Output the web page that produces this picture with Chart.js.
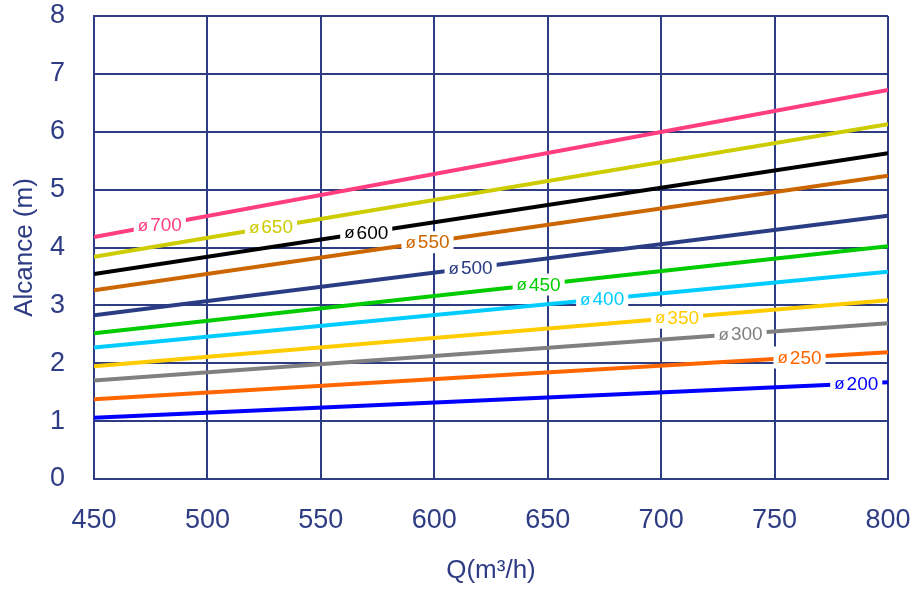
<!DOCTYPE html>
<html>
<head>
<meta charset="utf-8">
<script src="https://cdn.jsdelivr.net/npm/chart.js@4/dist/chart.umd.min.js"></script>
<style>
  html, body { margin: 0; padding: 0; background: #fff; }
  #wrap { width: 915px; height: 591px; }
</style>
</head>
<body>
<div id="wrap"><canvas id="c" width="915" height="591"></canvas></div>
<script>
// ---- data ----
const qValues = [450, 800];
const seriesNames = ['700', '650', '600', '550', '500', '450', '400', '350', '300', '250', '200'];
const reachAtStart = [4.18, 3.84, 3.54, 3.26, 2.83, 2.52, 2.27, 1.95, 1.70, 1.38, 1.06];
const reachAtEnd   = [6.72, 6.13, 5.63, 5.24, 4.55, 4.02, 3.58, 3.09, 2.69, 2.19, 1.67];
const labelQ       = [479, 528, 570, 597, 616, 646, 674, 707, 735, 761, 786];
const seriesColors = ['#FF3D7F', '#CCCC00', '#000000', '#CC6600', '#2A3C84', '#00CC00',
                      '#00CCFF', '#FFCC00', '#808080', '#FF6600', '#0000FF'];
const xTicks = [450, 500, 550, 600, 650, 700, 750, 800];
const yTicks = [0, 1, 2, 3, 4, 5, 6, 7, 8];

const NAVY = '#2E3C84';
const FONT = 'Arial, "Liberation Sans", sans-serif';

const datasets = seriesNames.map((n, i) => ({
  label: 'ø' + n,
  data: [{x: qValues[0], y: reachAtStart[i]}, {x: qValues[1], y: reachAtEnd[i]}],
  borderColor: seriesColors[i],
  backgroundColor: seriesColors[i],
  borderWidth: 4,
  pointRadius: 0,
  fill: false,
  tension: 0
}));

const labelPlugin = {
  id: 'lineLabels',
  afterDatasetsDraw(chart) {
    const ctx = chart.ctx;
    const xs = chart.scales.x, ys = chart.scales.y;
    ctx.save();
    seriesNames.forEach((n, i) => {
      const q = labelQ[i];
      const t = (q - qValues[0]) / (qValues[1] - qValues[0]);
      const v = reachAtStart[i] + (reachAtEnd[i] - reachAtStart[i]) * t;
      const px = xs.getPixelForValue(q);
      const py = ys.getPixelForValue(v);
      const symFont = '17px ' + FONT;
      const numFont = '19px ' + FONT;
      ctx.font = symFont;
      const ws = ctx.measureText('ø').width;
      ctx.font = numFont;
      const wn = ctx.measureText(n).width;
      const gap = 2;
      const total = ws + gap + wn;
      const padX = 4;
      ctx.fillStyle = '#ffffff';
      ctx.fillRect(px - total / 2 - padX, py - 11, total + padX * 2, 22);
      ctx.fillStyle = seriesColors[i];
      ctx.textBaseline = 'middle';
      ctx.textAlign = 'left';
      ctx.font = symFont;
      ctx.fillText('ø', px - total / 2, py + 1);
      ctx.font = numFont;
      ctx.fillText(n, px - total / 2 + ws + gap, py + 1);
    });
    ctx.restore();
  }
};

new Chart(document.getElementById('c'), {
  type: 'line',
  data: { datasets },
  options: {
    responsive: false,
    animation: false,
    layout: { padding: { left: 0, right: 27, top: 16, bottom: 0 } },
    plugins: { legend: { display: false }, tooltip: { enabled: false } },
    scales: {
      x: {
        type: 'linear',
        min: 450, max: 800,
        afterBuildTicks(scale) { scale.ticks = xTicks.map(v => ({value: v})); },
        afterFit(scale) { scale.height = 112; scale.paddingLeft = 0; scale.paddingRight = 0; },
        grid: { color: NAVY, lineWidth: 2, drawTicks: false },
        border: { color: NAVY, width: 2 },
        ticks: { color: NAVY, font: { size: 27, family: FONT }, padding: 25, maxRotation: 0 },
        title: { display: true, text: 'Q(m³/h)', color: NAVY, font: { size: 26, family: FONT },
                 padding: { top: 0, bottom: 5 } }
      },
      y: {
        min: 0, max: 8,
        afterBuildTicks(scale) { scale.ticks = yTicks.map(v => ({value: v})); },
        afterFit(scale) { scale.width = 94; scale.paddingTop = 0; scale.paddingBottom = 0; },
        grid: { color: NAVY, lineWidth: 2, drawTicks: false },
        border: { color: NAVY, width: 2 },
        ticks: { color: NAVY, font: { size: 27, family: FONT }, padding: 29 },
        title: { display: true, text: 'Alcance (m)', color: NAVY, font: { size: 26, family: FONT },
                 padding: { top: 9, bottom: 0 } }
      }
    }
  },
  plugins: [labelPlugin]
});
</script>
</body>
</html>
